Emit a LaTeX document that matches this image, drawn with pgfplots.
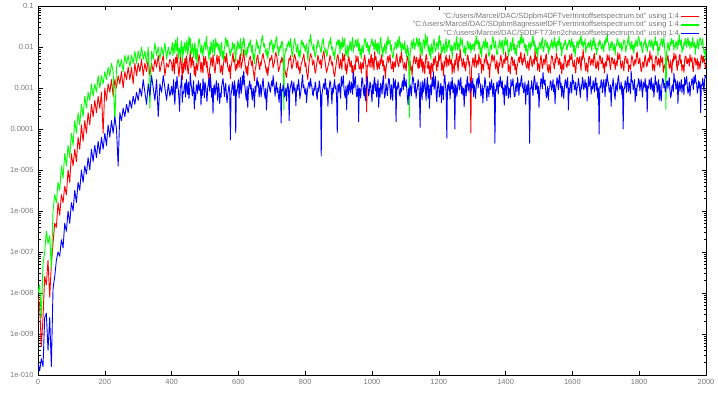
\documentclass[border=0pt]{standalone}
\usepackage{pgfplots}
\usepackage{pgfplotstable}
\usepackage{fontspec}
\setmainfont{Liberation Sans}
\pgfplotsset{compat=1.18}
\definecolor{lbl}{RGB}{120,120,120}
\definecolor{gpred}{RGB}{255,0,0}
\definecolor{gpgreen}{RGB}{0,255,0}
\definecolor{gpblue}{RGB}{0,0,255}
\pgfplotstableread{
x r g b
0 7.9e-9 1.0e-8 2.0e-10
5 5.0e-9 1.6e-8 1.26e-10
10 5.0e-10 2.5e-9 2.5e-10
15 2.5e-9 5.0e-8 1.6e-10
20 2.5e-8 1.0e-7 2.5e-9
25 1.6e-8 3.2e-7 3.2e-9
30 6.3e-8 1.6e-7 4.0e-10
35 7.9e-9 2.5e-7 2.5e-9
40 5.0e-8 4.0e-8 1.6e-10
45 1.6e-7 1.0e-6 1.26e-8
50 5.0e-7 2.5e-6 2.5e-8
55 4.0e-7 1.6e-6 6.3e-8
60 1.6e-6 5.0e-6 1.0e-7
65 7.9e-7 3.2e-6 7.9e-8
70 2.5e-6 1.26e-5 2.0e-7
75 1.6e-6 6.3e-6 1.26e-7
80 4.0e-6 2.5e-5 5.0e-7
85 2.5e-6 1.26e-5 3.2e-7
90 1.0e-5 4.0e-5 1.0e-6
95 5.0e-6 2.0e-5 5.0e-7
100 2.5e-5 7.9e-5 1.6e-6
105 1.26e-5 4.0e-5 1.0e-6
110 3.2e-5 1.6e-4 3.2e-6
115 1.6e-5 7.9e-5 1.6e-6
120 6.3e-5 2.5e-4 5.0e-6
125 3.2e-5 1.26e-4 3.2e-6
130 1.26e-4 4.0e-4 1.0e-5
135 5.0e-5 2.0e-4 5.0e-6
140 1.6e-4 6.3e-4 1.26e-5
145 7.9e-5 3.2e-4 7.9e-6
150 2.5e-4 7.9e-4 2.0e-5
155 1.26e-4 5.0e-4 1.0e-5
160 4.0e-4 1.26e-3 3.2e-5
165 2.0e-4 6.3e-4 1.6e-5
170 5.0e-4 1.26e-3 4.0e-5
175 2.5e-4 7.9e-4 2.0e-5
180 6.3e-4 2.0e-3 5.0e-5
185 3.2e-4 1.0e-3 2.5e-5
190 7.9e-4 2.0e-3 6.3e-5
195 7.9e-5 1.26e-3 3.2e-5
200 1.0e-3 2.5e-3 7.9e-5
205 5.0e-4 1.6e-3 4.0e-5
210 1.26e-3 3.2e-3 1.26e-4
215 7.9e-4 2.0e-3 6.3e-5
220 1.6e-3 4.0e-3 1.6e-4
225 6.3e-4 2.5e-3 7.9e-5
230 1.6e-3 1.26e-4 2.0e-4
235 1.0e-3 3.2e-3 1.0e-4
240 2.0e-3 5.0e-3 1.26e-5
245 1.26e-3 3.2e-3 2.5e-4
250 2.5e-3 5.0e-3 1.6e-4
255 1.0e-3 2.5e-3 3.2e-4
260 2.5e-3 6.3e-3 2.0e-4
265 1.6e-3 4.0e-3 4.0e-4
270 3.2e-3 6.3e-3 2.5e-4
275 1.6e-3 3.2e-3 5.0e-4
280 3.2e-3 6.3e-3 3.2e-4
285 1.26e-3 4.0e-3 6.3e-4
290 4.0e-3 7.9e-3 4.0e-4
295 2.0e-3 4.0e-3 7.9e-4
300 4.0e-3 7.9e-3 5.0e-4
305 2.5e-3 5.0e-3 1.0e-3
310 5.0e-3 1.0e-2 6.3e-4
315 2.0e-3 5.0e-3 1.6e-3
320 4.0e-3 7.9e-3 7.9e-4
325 2.5e-3 4.0e-3 4.0e-4
330 5.0e-3 1.0e-2 1.26e-3
335 2.0e-3 3.2e-4 6.3e-4
340 4.0e-3 7.9e-3 2.0e-3
345 2.5e-3 5.0e-3 1.0e-3
350 5.0e-3 1.26e-2 5.0e-4
355 3.2e-3 6.3e-3 1.6e-3
360 6.3e-3 1.0e-2 2.0e-4
365 2.5e-3 5.0e-3 1.26e-3
370 4.0e-3 1.0e-2 7.9e-4
375 6.3e-3 6.3e-3 2.0e-3
380 2.0e-3 1.26e-2 1.0e-3
385 4.0e-3 5.0e-3 5.0e-4
390 3.2e-3 1.0e-2 1.26e-3
395 5.0e-3 6.3e-3 6.3e-4
400 4.1e-3 9.2e-3 1.1e-3
402 2.6e-3 1.3e-2 6.8e-4
404 3.3e-3 6.1e-3 8.4e-4
406 5.1e-3 8.8e-3 1.6e-3
408 2.2e-3 1.2e-2 6.1e-4
410 3.8e-3 7.0e-3 4.0e-4
412 5.6e-3 1.5e-2 1.4e-3
414 4.0e-3 1.1e-2 9.7e-4
416 6.8e-3 7.9e-3 1.9e-3
418 4.4e-3 1.7e-2 1.2e-3
420 2.9e-3 5.2e-3 9.0e-4
422 1.9e-3 9.4e-3 5.5e-4
424 3.0e-3 8.6e-3 2.7e-4
426 5.9e-3 5.8e-3 1.0e-3
428 4.7e-3 1.1e-2 1.2e-3
430 3.2e-3 1.4e-2 2.0e-3
432 1.6e-3 4.3e-3 4.5e-4
434 4.3e-3 1.0e-2 8.1e-4
436 2.4e-3 6.8e-3 7.3e-4
438 3.5e-3 1.2e-2 1.1e-3
440 5.2e-3 1.3e-2 1.3e-3
442 2.8e-3 7.5e-3 6.0e-4
444 6.1e-3 9.8e-3 1.6e-3
446 4.9e-3 1.5e-2 1.0e-3
448 2.7e-3 6.4e-3 7.0e-4
450 2.2e-3 8.3e-3 1.4e-3
452 3.9e-3 1.8e-2 5.5e-4
454 5.4e-3 1.1e-2 8.8e-4
456 7.9e-3 1.6e-2 2.3e-3
458 3.1e-3 6.6e-3 1.3e-3
460 4.4e-3 7.3e-3 1.0e-3
462 5.7e-3 1.2e-2 6.4e-4
464 3.6e-3 8.5e-3 9.4e-4
466 4.5e-3 5.6e-3 1.5e-3
468 2.1e-3 1.0e-2 3.1e-4
470 3.3e-3 1.3e-2 8.0e-4
472 1.9e-3 5.0e-3 5.2e-4
474 4.0e-3 9.0e-3 1.2e-3
476 3.4e-3 4.1e-3 1.1e-3
478 2.7e-3 7.9e-3 7.4e-4
480 4.6e-3 1.2e-2 1.5e-3
482 6.6e-3 1.6e-2 1.0e-3
484 5.3e-3 1.4e-2 8.7e-4
486 3.7e-3 8.9e-3 1.3e-3
488 2.4e-3 6.9e-3 3.8e-4
490 4.2e-3 1.1e-2 9.2e-4
492 3.1e-3 8.0e-3 6.6e-4
494 2.3e-3 6.0e-3 1.7e-3
496 5.9e-3 1.0e-2 1.1e-3
498 3.6e-3 1.2e-2 5.8e-4
500 4.8e-3 1.3e-2 1.4e-3
502 5.9e-3 8.7e-3 1.1e-3
504 3.2e-3 1.8e-2 7.6e-4
506 4.4e-3 1.1e-2 4.7e-4
508 2.6e-3 9.1e-3 1.0e-3
510 2.0e-3 7.3e-3 1.3e-3
512 1.4e-3 4.8e-3 1.7e-3
514 3.0e-3 1.0e-2 8.4e-4
516 3.7e-3 6.6e-3 2.2e-3
518 5.6e-3 1.4e-2 1.2e-3
520 4.9e-3 9.7e-3 5.9e-4
522 3.4e-3 7.2e-3 9.8e-4
524 6.5e-3 1.2e-2 2.4e-4
526 4.5e-3 1.5e-2 1.0e-3
528 2.9e-3 6.2e-3 1.2e-3
530 2.3e-3 8.5e-3 6.7e-4
532 3.5e-3 1.6e-2 9.6e-4
534 4.8e-3 1.0e-2 1.5e-3
536 6.4e-3 1.3e-2 8.8e-4
538 3.9e-3 1.1e-2 5.0e-4
540 5.0e-3 8.4e-3 1.3e-3
542 6.1e-3 1.2e-2 1.0e-3
544 3.8e-3 7.6e-3 4.2e-4
546 2.4e-3 5.9e-3 7.5e-4
548 2.8e-3 1.1e-2 6.0e-4
550 3.6e-3 1.3e-2 1.1e-3
552 2.1e-3 5.3e-3 1.4e-3
554 3.1e-3 8.0e-3 1.7e-3
556 4.2e-3 4.7e-3 1.1e-3
558 6.0e-3 9.6e-3 6.2e-4
560 5.5e-3 1.1e-2 9.9e-4
562 4.1e-3 1.7e-2 1.3e-3
564 7.1e-3 1.4e-2 7.1e-4
566 5.0e-3 1.0e-2 4.4e-4
568 3.3e-3 1.5e-2 6.6e-4
570 2.9e-3 1.1e-2 9.2e-4
572 2.5e-3 9.4e-3 1.2e-3
574 3.7e-3 7.1e-3 8.0e-4
576 1.7e-3 6.0e-3 5.4e-5
578 3.3e-3 8.9e-3 7.0e-4
580 4.0e-3 7.7e-3 8.9e-4
582 5.6e-3 1.3e-2 1.4e-3
584 7.2e-3 9.0e-3 1.0e-3
586 4.3e-3 1.1e-2 6.5e-4
588 5.1e-3 1.2e-2 1.5e-3
590 3.5e-3 6.9e-3 1.1e-3
592 2.6e-3 4.4e-3 8.0e-5
594 3.8e-3 1.0e-2 9.0e-4
596 3.0e-3 8.3e-3 7.9e-4
598 4.9e-3 1.4e-2 1.2e-3
600 4.4e-3 1.2e-2 1.6e-3
602 3.2e-3 9.1e-3 5.7e-4
604 5.8e-3 1.0e-2 1.1e-3
606 6.8e-3 1.6e-2 1.8e-3
608 3.0e-3 8.0e-3 7.3e-4
610 3.6e-3 6.2e-3 9.5e-4
612 4.6e-3 1.3e-2 2.0e-3
614 5.9e-3 1.1e-2 1.2e-3
616 8.6e-3 1.7e-2 2.6e-3
618 5.2e-3 1.3e-2 1.4e-3
620 3.9e-3 6.5e-3 1.0e-3
622 2.9e-3 8.1e-3 6.4e-4
624 2.3e-3 5.7e-3 5.0e-4
626 3.4e-3 9.8e-3 1.1e-3
628 2.0e-3 7.2e-3 3.3e-4
630 3.9e-3 1.2e-2 8.6e-4
632 4.8e-3 1.0e-2 1.2e-3
634 5.5e-3 1.3e-2 1.5e-3
636 6.0e-3 1.5e-2 9.4e-4
638 4.2e-3 9.6e-3 1.2e-3
640 3.5e-3 7.4e-3 6.8e-4
642 4.6e-3 1.1e-2 5.1e-4
644 2.7e-3 5.0e-3 1.0e-3
646 2.2e-3 6.8e-3 8.0e-4
648 1.5e-3 3.9e-3 3.4e-4
650 2.8e-3 7.9e-3 1.1e-3
652 3.2e-3 9.0e-3 8.0e-4
654 4.6e-3 1.5e-2 1.3e-3
656 5.7e-3 1.3e-2 1.8e-3
658 6.4e-3 9.4e-3 1.1e-3
660 4.5e-3 1.1e-2 1.4e-3
662 3.4e-3 8.2e-3 6.0e-4
664 2.8e-3 6.6e-3 9.1e-4
666 4.2e-3 1.0e-2 1.2e-3
668 3.6e-3 1.2e-2 6.2e-4
670 4.9e-3 1.6e-2 9.0e-4
672 6.1e-3 1.9e-2 1.3e-3
674 7.0e-3 1.3e-2 1.7e-3
676 5.2e-3 1.0e-2 1.0e-3
678 4.5e-3 1.2e-2 7.3e-4
680 3.9e-3 8.8e-3 5.6e-4
682 3.0e-3 7.3e-3 1.0e-3
684 2.4e-3 6.3e-3 2.9e-4
686 3.2e-3 9.3e-3 6.6e-4
688 2.0e-3 5.1e-3 1.0e-3
690 2.9e-3 7.5e-3 1.4e-3
692 3.8e-3 8.1e-3 1.2e-3
694 5.3e-3 1.3e-2 9.0e-4
696 4.7e-3 1.1e-2 7.9e-4
698 5.6e-3 1.5e-2 1.2e-3
700 6.3e-3 1.4e-2 1.5e-3
702 4.4e-3 1.0e-2 1.1e-3
704 3.1e-3 7.0e-3 2.0e-3
706 3.7e-3 1.2e-2 1.3e-3
708 4.3e-3 9.2e-3 9.6e-4
710 5.9e-3 1.1e-2 6.3e-4
712 7.5e-3 1.5e-2 1.1e-3
714 6.2e-3 1.8e-2 1.4e-3
716 5.4e-3 1.2e-2 7.8e-4
718 3.8e-3 8.5e-3 1.0e-3
720 2.5e-3 6.1e-3 6.2e-4
722 2.9e-3 1.0e-2 4.5e-4
724 3.3e-3 8.0e-3 1.0e-3
726 4.6e-3 1.1e-2 1.3e-3
728 4.2e-3 9.5e-3 1.4e-4
730 5.7e-3 1.4e-2 9.1e-4
732 5.0e-3 1.3e-2 8.5e-4
734 4.0e-3 8.6e-3 1.2e-3
736 3.4e-3 2.9e-4 9.6e-4
738 3.0e-3 6.3e-3 6.1e-4
740 2.6e-3 7.1e-3 6.9e-4
742 2.1e-3 9.2e-3 1.0e-3
744 1.8e-3 8.2e-3 4.8e-4
746 2.7e-3 1.2e-2 9.0e-4
748 3.0e-3 1.0e-2 1.3e-3
750 4.4e-3 1.4e-2 1.0e-3
752 5.3e-3 1.2e-2 1.6e-4
754 4.8e-3 9.9e-3 8.7e-4
756 6.2e-3 1.6e-2 1.1e-3
758 4.0e-3 1.1e-2 1.3e-3
760 2.9e-3 6.7e-3 1.5e-3
762 3.4e-3 5.7e-3 7.4e-4
764 4.1e-3 8.9e-3 9.2e-4
766 5.3e-3 1.2e-2 1.4e-3
768 6.6e-3 1.6e-2 8.5e-4
770 5.8e-3 1.3e-2 1.0e-3
772 4.9e-3 1.1e-2 3.7e-4
774 3.1e-3 7.4e-3 7.9e-4
776 3.7e-3 9.0e-3 1.2e-3
778 4.6e-3 1.2e-2 9.0e-4
780 2.8e-3 6.0e-3 1.6e-3
782 3.3e-3 8.3e-3 1.1e-3
784 2.2e-3 5.4e-3 5.5e-4
786 2.9e-3 7.0e-3 7.2e-4
788 3.9e-3 1.3e-2 9.8e-4
790 4.2e-3 1.5e-2 1.4e-3
792 5.0e-3 1.1e-2 2.1e-3
794 5.7e-3 1.3e-2 1.0e-3
796 6.8e-3 9.6e-3 1.2e-3
798 4.5e-3 1.1e-2 8.2e-4
800 3.3e-3 7.8e-3 7.1e-4
802 4.1e-3 9.0e-3 1.0e-3
804 2.5e-3 1.2e-2 4.4e-4
806 2.1e-3 7.2e-3 7.7e-4
808 1.6e-3 4.6e-3 1.0e-3
810 3.0e-3 8.8e-3 1.3e-3
812 4.4e-3 1.5e-2 1.4e-3
814 5.6e-3 1.3e-2 9.8e-4
816 6.9e-3 2.0e-2 1.7e-3
818 6.0e-3 1.4e-2 1.2e-3
820 5.5e-3 1.1e-2 1.1e-3
822 3.6e-3 9.4e-3 7.2e-4
824 4.0e-3 8.4e-3 6.4e-4
826 4.8e-3 1.2e-2 1.0e-3
828 3.1e-3 6.9e-3 8.8e-4
830 2.3e-3 5.6e-3 1.4e-3
832 2.6e-3 6.3e-3 1.1e-3
834 3.8e-3 1.1e-2 6.8e-4
836 4.5e-3 9.9e-3 5.2e-4
838 6.3e-3 1.5e-2 1.0e-3
840 5.4e-3 1.3e-2 8.3e-4
842 4.2e-3 1.1e-2 1.5e-3
844 3.8e-3 1.0e-2 1.2e-3
846 4.9e-3 8.2e-3 7.0e-4
848 3.0e-3 7.2e-3 2.2e-5
850 4.1e-3 1.2e-2 6.5e-4
852 5.9e-3 1.4e-2 9.0e-4
854 6.9e-3 1.6e-2 1.1e-3
856 8.1e-3 1.0e-2 1.3e-3
858 5.4e-3 9.2e-3 9.3e-4
860 4.2e-3 7.5e-3 1.7e-3
862 3.0e-3 8.9e-3 1.2e-3
864 2.4e-3 5.9e-3 6.9e-4
866 2.8e-3 6.6e-3 1.0e-3
868 3.3e-3 8.7e-3 3.6e-4
870 3.9e-3 1.1e-2 8.1e-4
872 4.5e-3 1.4e-2 1.0e-3
874 6.2e-3 1.2e-2 1.5e-3
876 5.6e-3 1.7e-2 1.3e-3
878 4.4e-3 1.1e-2 8.8e-4
880 3.6e-3 8.6e-3 4.1e-4
882 4.3e-3 1.0e-2 1.0e-3
884 2.7e-3 6.2e-3 7.6e-4
886 2.2e-3 7.7e-3 1.2e-3
888 1.9e-3 4.9e-3 1.6e-3
890 2.6e-3 8.0e-3 9.7e-4
892 3.5e-3 9.4e-3 1.1e-3
894 4.8e-3 1.3e-2 6.1e-4
896 5.8e-3 1.2e-2 8.0e-5
898 6.6e-3 1.5e-2 1.2e-3
900 4.9e-3 1.1e-2 8.1e-4
902 3.0e-3 1.5e-2 1.3e-3
904 3.2e-3 6.8e-3 9.2e-4
906 5.0e-3 1.2e-2 5.6e-4
908 4.0e-3 1.3e-2 1.9e-3
910 2.8e-3 8.7e-3 1.1e-3
912 7.0e-3 1.7e-2 1.4e-3
914 4.6e-3 1.0e-2 2.0e-3
916 5.3e-3 1.2e-2 1.0e-3
918 6.6e-3 1.6e-2 6.9e-4
920 2.7e-3 9.3e-3 5.8e-4
922 3.9e-3 6.0e-3 1.1e-3
924 2.2e-3 7.0e-3 3.0e-4
926 3.0e-3 1.1e-2 9.6e-4
928 4.3e-3 5.5e-3 1.2e-3
930 6.0e-3 1.0e-2 7.0e-4
932 5.0e-3 8.8e-3 1.5e-3
934 3.3e-3 1.4e-2 1.0e-3
936 3.5e-3 1.1e-2 7.7e-4
938 4.6e-3 8.0e-3 1.4e-3
940 2.4e-3 1.4e-2 1.1e-3
942 3.5e-3 1.7e-2 7.0e-4
944 1.5e-3 7.5e-3 2.4e-3
946 2.9e-3 1.1e-2 1.0e-3
948 3.7e-3 1.0e-2 1.3e-3
950 2.8e-3 1.4e-2 1.9e-3
952 6.2e-3 1.5e-2 1.0e-3
954 4.4e-3 1.0e-2 6.2e-4
956 4.8e-3 1.2e-2 6.8e-4
958 5.9e-3 1.6e-2 1.2e-3
960 3.9e-3 8.1e-3 1.5e-4
962 2.9e-3 1.2e-2 1.0e-3
964 3.0e-3 6.4e-3 9.0e-4
966 4.2e-3 8.9e-3 5.7e-4
968 2.3e-3 5.2e-3 1.1e-3
970 3.6e-3 1.1e-2 1.8e-3
972 4.1e-3 9.0e-3 1.6e-3
974 3.0e-3 7.3e-3 8.5e-4
976 5.1e-3 1.2e-2 6.5e-4
978 6.4e-3 1.5e-2 1.2e-3
980 4.6e-3 1.6e-2 4.9e-4
982 3.3e-3 1.0e-2 9.5e-4
984 2.6e-4 9.8e-3 1.3e-3
986 3.6e-3 1.3e-2 1.9e-3
988 3.4e-3 7.9e-3 1.0e-3
990 5.1e-3 1.1e-2 6.4e-4
992 4.6e-3 6.5e-3 8.7e-4
994 3.2e-3 1.0e-2 1.4e-3
996 5.5e-3 1.1e-2 1.2e-3
998 6.6e-3 1.4e-2 7.5e-4
1000 3.1e-3 1.6e-2 4.6e-4
1002 5.3e-3 1.1e-2 1.2e-3
1004 4.0e-3 1.3e-2 7.3e-4
1006 2.7e-3 8.4e-3 1.5e-3
1008 7.7e-3 1.0e-2 1.8e-3
1010 4.9e-3 1.5e-2 8.6e-4
1012 5.8e-3 8.4e-3 1.3e-3
1014 3.6e-3 1.2e-2 6.0e-4
1016 2.8e-3 7.3e-3 9.5e-4
1018 4.5e-3 1.3e-2 1.6e-3
1020 3.6e-3 9.9e-3 3.4e-4
1022 2.9e-3 6.5e-3 1.0e-3
1024 4.9e-3 1.3e-2 6.0e-4
1026 3.8e-3 1.7e-2 1.3e-3
1028 6.4e-3 1.1e-2 1.1e-3
1030 5.0e-3 7.9e-3 7.1e-4
1032 3.4e-3 5.8e-3 1.4e-3
1034 4.6e-3 9.7e-3 2.0e-3
1036 2.6e-3 7.8e-3 9.1e-4
1038 3.5e-3 1.2e-2 5.7e-4
1040 1.7e-3 9.6e-3 7.4e-4
1042 2.9e-3 6.9e-3 1.3e-3
1044 3.9e-3 1.4e-2 1.0e-3
1046 5.5e-3 1.1e-2 6.5e-4
1048 6.0e-3 1.8e-2 1.1e-3
1050 4.2e-3 1.2e-2 1.7e-3
1052 5.1e-3 1.2e-2 1.6e-3
1054 6.5e-3 1.5e-2 9.2e-4
1056 4.1e-3 8.3e-3 5.3e-4
1058 2.9e-3 1.1e-2 1.2e-3
1060 3.1e-3 6.7e-3 8.0e-4
1062 4.4e-3 5.4e-3 5.0e-4
1064 2.5e-3 6.0e-3 1.7e-3
1066 3.9e-3 1.0e-2 1.0e-3
1068 4.3e-3 8.9e-3 1.2e-3
1070 3.2e-3 1.3e-2 1.6e-3
1072 5.6e-3 1.1e-2 1.5e-4
1074 6.8e-3 9.0e-3 1.1e-3
1076 4.7e-3 1.5e-2 9.5e-4
1078 3.6e-3 1.0e-2 1.4e-3
1080 3.3e-3 1.4e-2 1.2e-3
1082 4.6e-3 1.8e-2 7.3e-4
1084 5.9e-3 1.0e-2 6.3e-4
1086 4.1e-3 1.3e-2 1.0e-3
1088 8.4e-3 7.7e-3 8.1e-4
1090 5.3e-3 1.1e-2 1.3e-3
1092 4.5e-3 1.2e-2 1.5e-3
1094 3.3e-3 8.5e-3 9.0e-4
1096 2.9e-3 1.0e-2 2.2e-3
1098 4.2e-3 1.4e-2 1.2e-3
1100 3.5e-3 7.1e-3 1.1e-3
1102 2.6e-3 9.0e-3 1.6e-3
1104 4.4e-3 5.6e-3 9.8e-4
1106 5.9e-3 1.1e-2 6.2e-4
1108 5.2e-3 9.3e-3 3.9e-4
1110 3.5e-3 6.0e-3 1.0e-3
1112 3.7e-3 1.9e-4 6.3e-4
1114 4.6e-3 7.0e-3 1.2e-3
1116 2.7e-3 8.6e-3 1.0e-3
1118 3.3e-3 1.4e-2 6.4e-4
1120 2.0e-3 1.2e-2 1.3e-3
1122 3.6e-3 9.1e-3 1.9e-3
1124 4.2e-3 1.6e-2 1.7e-3
1126 6.1e-3 1.3e-2 1.1e-3
1128 5.5e-3 8.7e-3 7.8e-4
1130 3.9e-3 1.2e-2 1.3e-3
1132 4.6e-3 1.1e-2 5.6e-4
1134 5.7e-3 1.7e-2 8.6e-4
1136 3.8e-3 1.5e-2 1.0e-3
1138 3.0e-3 1.0e-2 1.6e-3
1140 5.0e-3 1.2e-2 1.3e-3
1142 3.1e-3 1.6e-2 7.0e-4
1144 6.7e-3 6.9e-3 1.1e-4
1146 4.9e-3 1.3e-2 1.4e-3
1148 3.3e-3 8.2e-3 9.0e-4
1150 5.1e-3 6.0e-3 5.2e-4
1152 2.4e-3 1.1e-2 1.5e-3
1154 4.3e-3 1.5e-2 8.0e-4
1156 3.4e-3 1.3e-2 1.1e-3
1158 2.2e-3 9.0e-3 1.7e-3
1160 4.7e-3 2.1e-2 8.9e-4
1162 6.6e-3 1.1e-2 5.0e-4
1164 5.8e-3 1.4e-2 1.2e-3
1166 3.2e-3 1.8e-2 1.8e-3
1168 3.0e-3 7.9e-3 5.7e-4
1170 4.4e-3 1.1e-2 1.2e-3
1172 2.2e-3 6.3e-3 3.2e-4
1174 3.5e-3 9.6e-3 9.0e-4
1176 1.6e-3 5.0e-3 1.2e-3
1178 4.0e-3 1.2e-2 6.8e-4
1180 3.6e-3 9.1e-3 1.8e-3
1182 2.5e-3 7.0e-3 1.1e-3
1184 5.2e-3 1.3e-2 2.5e-3
1186 3.7e-3 1.6e-2 9.2e-4
1188 4.9e-3 1.0e-2 1.3e-3
1190 6.0e-3 7.8e-3 1.9e-3
1192 3.6e-3 9.1e-3 7.2e-4
1194 2.6e-3 1.3e-2 4.6e-4
1196 4.4e-3 1.2e-2 9.4e-4
1198 3.3e-3 8.4e-3 1.5e-3
1200 7.3e-3 1.6e-2 1.1e-3
1202 4.7e-3 1.9e-2 6.1e-4
1204 5.6e-3 1.1e-2 8.0e-4
1206 6.9e-3 1.4e-2 1.3e-3
1208 2.7e-3 6.4e-3 4.4e-4
1210 4.1e-3 1.0e-2 1.1e-3
1212 3.2e-3 7.7e-3 1.0e-3
1214 2.0e-3 1.2e-2 5.2e-4
1216 4.5e-3 1.0e-2 1.6e-3
1218 3.4e-3 6.9e-3 2.1e-3
1220 5.3e-3 1.3e-2 1.2e-3
1222 6.4e-3 1.6e-2 7.4e-4
1224 3.2e-3 7.6e-3 6.0e-5
1226 5.1e-3 1.1e-2 1.2e-3
1228 4.8e-3 9.8e-3 8.7e-4
1230 3.5e-3 1.5e-2 1.4e-3
1232 6.3e-3 1.4e-2 1.0e-3
1234 4.4e-3 9.0e-3 5.5e-4
1236 3.8e-3 8.1e-3 1.4e-3
1238 5.0e-3 1.1e-2 9.5e-4
1240 2.2e-3 5.3e-3 1.8e-3
1242 3.9e-3 1.0e-2 8.0e-4
1244 3.3e-3 8.7e-3 7.6e-4
1246 2.4e-3 1.3e-2 1.3e-3
1248 4.8e-3 1.2e-2 1.0e-4
1250 3.6e-3 8.4e-3 1.2e-3
1252 5.7e-3 1.5e-2 1.1e-3
1254 7.0e-3 1.8e-2 6.3e-4
1256 3.5e-3 8.5e-3 9.0e-4
1258 2.6e-3 1.2e-2 1.5e-3
1260 6.0e-3 1.1e-2 1.6e-3
1262 4.6e-3 7.9e-3 9.0e-4
1264 8.9e-3 1.7e-2 1.3e-3
1266 5.5e-3 1.1e-2 1.8e-3
1268 5.1e-3 1.3e-2 7.3e-4
1270 3.3e-3 1.6e-2 1.1e-3
1272 4.0e-3 1.0e-2 6.7e-4
1274 5.2e-3 7.6e-3 1.0e-3
1276 3.1e-3 7.3e-3 3.5e-4
1278 4.3e-3 1.1e-2 8.5e-4
1280 2.6e-3 6.1e-3 1.2e-3
1282 3.7e-3 9.4e-3 6.4e-4
1284 4.3e-3 9.2e-3 1.5e-3
1286 6.4e-3 1.4e-2 1.9e-3
1288 5.9e-3 1.3e-2 8.4e-4
1290 3.6e-3 8.7e-3 1.3e-3
1292 4.4e-3 1.0e-2 1.2e-3
1294 1.4e-3 1.3e-2 7.5e-4
1296 8.0e-5 7.2e-3 1.5e-3
1298 3.0e-3 1.1e-2 1.0e-3
1300 3.8e-3 8.8e-3 1.0e-3
1302 5.5e-3 1.2e-2 1.7e-3
1304 4.6e-3 1.1e-2 6.2e-4
1306 3.2e-3 8.0e-3 1.2e-3
1308 5.4e-3 1.4e-2 8.9e-4
1310 6.6e-3 1.1e-2 5.6e-4
1312 3.1e-3 1.9e-2 1.1e-3
1314 4.2e-3 1.2e-2 1.6e-3
1316 4.7e-3 1.2e-2 1.7e-3
1318 3.6e-3 1.5e-2 1.0e-3
1320 6.8e-3 8.9e-3 2.3e-3
1322 4.9e-3 1.3e-2 1.3e-3
1324 4.0e-3 7.0e-3 1.3e-3
1326 5.3e-3 9.6e-3 6.4e-4
1328 2.3e-3 5.7e-3 7.5e-4
1330 3.8e-3 1.1e-2 1.2e-3
1332 3.6e-3 9.5e-3 4.3e-4
1334 2.7e-3 1.4e-2 9.5e-4
1336 5.0e-3 1.2e-2 1.0e-3
1338 4.1e-3 8.8e-3 1.8e-3
1340 5.9e-3 1.6e-2 1.4e-3
1342 6.9e-3 1.2e-2 8.6e-4
1344 3.8e-3 9.4e-3 4.9e-4
1346 4.6e-3 1.3e-2 1.1e-3
1348 2.9e-3 7.6e-3 9.2e-4
1350 3.9e-3 5.9e-3 6.1e-4
1352 1.8e-3 6.6e-3 1.4e-3
1354 3.4e-3 1.1e-2 9.0e-4
1356 4.1e-3 1.1e-2 1.1e-3
1358 5.8e-3 8.6e-3 1.6e-3
1360 6.5e-3 1.5e-2 9.3e-4
1362 4.4e-3 1.8e-2 6.2e-4
1364 5.3e-3 1.3e-2 1.3e-3
1366 6.2e-3 9.3e-3 1.0e-3
1368 4.2e-3 1.0e-2 4.5e-5
1370 2.9e-3 1.4e-2 9.1e-4
1372 3.5e-3 8.3e-3 8.4e-4
1374 4.7e-3 6.5e-3 1.4e-3
1376 2.8e-3 7.0e-3 1.2e-3
1378 2.2e-3 1.1e-2 7.1e-4
1380 4.0e-3 1.0e-2 1.5e-3
1382 3.4e-3 1.5e-2 1.1e-3
1384 5.3e-3 1.3e-2 1.9e-3
1386 6.4e-3 9.0e-3 1.3e-3
1388 4.6e-3 1.2e-2 1.0e-3
1390 3.1e-3 1.5e-2 1.5e-3
1392 3.4e-3 8.0e-3 7.0e-4
1394 4.8e-3 6.7e-3 1.0e-3
1396 5.1e-3 1.4e-2 3.8e-4
1398 3.9e-3 1.1e-2 1.2e-3
1400 7.6e-3 1.7e-2 1.1e-3
1402 5.0e-3 1.2e-2 6.5e-4
1404 4.8e-3 1.1e-2 1.4e-3
1406 6.0e-3 1.5e-2 1.9e-3
1408 2.5e-3 5.9e-3 5.6e-4
1410 3.7e-3 9.0e-3 1.0e-3
1412 3.0e-3 7.8e-3 9.0e-4
1414 2.2e-3 1.3e-2 5.8e-4
1416 4.3e-3 1.1e-2 1.6e-3
1418 5.8e-3 8.1e-3 1.1e-3
1420 5.5e-3 1.5e-2 1.2e-3
1422 3.5e-3 1.7e-2 1.7e-3
1424 3.9e-3 8.6e-3 9.7e-4
1426 4.9e-3 1.2e-2 6.3e-4
1428 2.8e-3 6.9e-3 6.1e-4
1430 3.8e-3 9.5e-3 1.1e-3
1432 2.1e-3 6.2e-3 1.3e-3
1434 3.2e-3 1.1e-2 8.0e-4
1436 3.7e-3 1.0e-2 1.8e-3
1438 5.0e-3 1.4e-2 1.2e-3
1440 5.7e-3 1.4e-2 6.6e-4
1442 4.2e-3 9.5e-3 1.3e-3
1444 6.2e-3 1.7e-2 1.1e-3
1446 7.5e-3 1.2e-2 1.6e-3
1448 4.4e-3 2.0e-2 2.0e-3
1450 3.6e-3 1.3e-2 1.0e-3
1452 5.3e-3 1.3e-2 1.3e-3
1454 4.3e-3 1.6e-2 7.6e-4
1456 6.9e-3 9.7e-3 8.7e-4
1458 5.5e-3 1.2e-2 1.4e-3
1460 4.1e-3 8.0e-3 4.0e-4
1462 3.3e-3 1.1e-2 8.8e-4
1464 3.0e-3 7.4e-3 1.2e-3
1466 4.5e-3 6.2e-3 6.9e-4
1468 3.8e-3 9.6e-3 1.5e-3
1470 2.7e-3 1.3e-2 1.1e-3
1472 4.7e-3 1.1e-2 4.5e-5
1474 6.1e-3 8.6e-3 1.0e-3
1476 5.4e-3 1.3e-2 9.6e-4
1478 3.9e-3 1.0e-2 1.5e-3
1480 3.3e-3 1.6e-2 1.0e-3
1482 4.6e-3 1.9e-2 6.5e-4
1484 5.0e-3 1.1e-2 1.3e-3
1486 3.8e-3 1.4e-2 2.0e-3
1488 8.3e-3 8.2e-3 1.5e-3
1490 5.2e-3 1.1e-2 9.1e-4
1492 4.5e-3 6.9e-3 1.0e-3
1494 5.9e-3 9.4e-3 1.4e-3
1496 2.7e-3 5.5e-3 7.3e-4
1498 3.9e-3 1.0e-2 1.1e-3
1500 3.5e-3 9.1e-3 3.3e-4
1502 2.5e-3 1.3e-2 8.0e-4
1504 5.1e-3 1.2e-2 1.1e-3
1506 6.3e-3 8.9e-3 1.7e-3
1508 4.3e-3 1.4e-2 1.6e-3
1510 3.0e-3 1.7e-2 9.6e-4
1512 3.6e-3 9.0e-3 2.4e-3
1514 5.0e-3 7.7e-3 1.4e-3
1516 4.9e-3 1.1e-2 1.2e-3
1518 3.7e-3 1.4e-2 1.6e-3
1520 6.0e-3 1.5e-2 9.0e-4
1522 6.8e-3 1.1e-2 5.8e-4
1524 3.9e-3 9.8e-3 7.1e-4
1526 2.8e-3 1.3e-2 1.1e-3
1528 2.4e-3 6.7e-3 5.1e-4
1530 3.8e-3 9.9e-3 9.5e-4
1532 3.1e-3 8.3e-3 1.0e-3
1534 2.3e-3 1.2e-2 1.5e-3
1536 4.9e-3 1.0e-2 1.4e-3
1538 6.1e-3 1.5e-2 8.8e-4
1540 5.8e-3 1.2e-2 1.1e-3
1542 4.3e-3 9.1e-3 1.6e-3
1544 3.7e-3 1.3e-2 8.0e-4
1546 2.9e-3 1.7e-2 1.2e-3
1548 5.2e-3 1.0e-2 4.1e-4
1550 4.1e-3 1.3e-2 9.4e-4
1552 7.1e-3 7.7e-3 1.2e-3
1554 5.4e-3 1.1e-2 1.8e-3
1556 5.5e-3 1.4e-2 1.4e-3
1558 3.7e-3 1.1e-2 9.0e-4
1560 4.1e-3 1.8e-2 1.7e-3
1562 5.3e-3 1.2e-2 2.1e-3
1564 3.0e-3 9.2e-3 1.0e-3
1566 4.2e-3 1.3e-2 1.3e-3
1568 2.2e-3 6.0e-3 6.1e-4
1570 3.4e-3 9.7e-3 1.1e-3
1572 3.9e-3 8.8e-3 8.8e-4
1574 2.8e-3 1.2e-2 5.6e-4
1576 5.6e-3 1.1e-2 1.0e-3
1578 6.5e-3 1.5e-2 1.5e-3
1580 4.4e-3 1.3e-2 1.6e-3
1582 3.3e-3 9.0e-3 1.0e-3
1584 3.2e-3 8.4e-3 1.3e-3
1586 4.6e-3 1.2e-2 1.8e-3
1588 4.8e-3 1.1e-2 2.9e-4
1590 3.5e-3 1.5e-2 1.0e-3
1592 6.4e-3 1.4e-2 7.6e-4
1594 4.9e-3 9.8e-3 1.4e-3
1596 5.0e-3 1.2e-2 1.2e-3
1598 6.9e-3 1.6e-2 7.5e-4
1600 4.5e-3 1.0e-2 2.1e-3
1602 3.3e-3 1.3e-2 1.3e-3
1604 3.4e-3 7.6e-3 1.5e-3
1606 4.8e-3 1.1e-2 9.2e-4
1608 2.9e-3 5.8e-3 9.4e-4
1610 2.3e-3 8.8e-3 1.4e-3
1612 4.0e-3 9.9e-3 6.7e-4
1614 5.6e-3 1.4e-2 1.0e-3
1616 5.4e-3 1.2e-2 1.1e-3
1618 3.9e-3 9.4e-3 1.7e-3
1620 4.6e-3 1.5e-2 1.3e-3
1622 5.8e-3 1.2e-2 8.2e-4
1624 3.5e-3 1.6e-2 5.9e-4
1626 2.7e-3 1.9e-2 1.2e-3
1628 5.9e-3 1.1e-2 9.6e-4
1630 4.8e-3 1.4e-2 1.8e-3
1632 8.7e-3 9.3e-3 1.5e-3
1634 5.7e-3 1.3e-2 9.0e-4
1636 5.1e-3 1.2e-2 1.1e-3
1638 3.4e-3 1.6e-2 1.6e-3
1640 2.6e-3 7.1e-3 1.0e-3
1642 4.1e-3 1.0e-2 1.3e-3
1644 3.3e-3 9.4e-3 4.8e-4
1646 2.4e-3 1.2e-2 9.0e-4
1648 4.8e-3 1.3e-2 1.9e-3
1650 6.0e-3 9.7e-3 1.1e-3
1652 5.6e-3 1.1e-2 1.3e-3
1654 3.6e-3 1.5e-2 1.9e-3
1656 3.9e-3 1.0e-2 7.1e-4
1658 5.1e-3 8.1e-3 1.1e-3
1660 4.7e-3 1.4e-2 9.4e-4
1662 3.5e-3 1.1e-2 1.5e-3
1664 6.2e-3 1.7e-2 1.2e-3
1666 7.0e-3 1.3e-2 8.0e-4
1668 4.4e-3 9.0e-3 1.5e-3
1670 3.0e-3 1.2e-2 1.8e-3
1672 3.1e-3 6.5e-3 8.8e-4
1674 4.6e-3 9.2e-3 1.3e-3
1676 3.8e-3 8.6e-3 5.5e-4
1678 2.7e-3 1.3e-2 1.0e-3
1680 5.0e-3 1.1e-2 7.5e-5
1682 6.3e-3 1.5e-2 1.1e-3
1684 5.7e-3 1.3e-2 1.0e-3
1686 3.9e-3 9.5e-3 1.6e-3
1688 4.2e-3 8.8e-3 1.4e-3
1690 5.4e-3 1.2e-2 7.7e-4
1692 3.1e-3 1.0e-2 1.2e-3
1694 4.0e-3 7.6e-3 1.6e-3
1696 2.3e-3 1.4e-2 9.9e-4
1698 3.7e-3 1.1e-2 6.2e-4
1700 4.4e-3 1.6e-2 1.6e-3
1702 3.4e-3 1.3e-2 1.1e-3
1704 6.6e-3 2.1e-2 2.2e-3
1706 4.7e-3 1.4e-2 1.5e-3
1708 5.0e-3 1.2e-2 1.3e-3
1710 6.3e-3 9.1e-3 8.4e-4
1712 3.7e-3 8.0e-3 7.9e-4
1714 2.8e-3 1.2e-2 1.2e-3
1716 4.2e-3 9.7e-3 3.6e-4
1718 5.6e-3 1.4e-2 9.8e-4
1720 5.3e-3 1.2e-2 1.2e-3
1722 3.8e-3 8.2e-3 1.7e-3
1724 4.1e-3 8.9e-3 1.0e-3
1726 5.1e-3 1.2e-2 6.8e-4
1728 2.8e-3 6.3e-3 5.3e-4
1730 3.9e-3 1.0e-2 1.3e-3
1732 4.5e-3 1.1e-2 1.1e-3
1734 3.5e-3 1.6e-2 8.2e-4
1736 7.4e-3 1.5e-2 1.6e-3
1738 5.0e-3 1.1e-2 2.0e-3
1740 5.6e-3 1.3e-2 1.3e-3
1742 6.8e-3 9.5e-3 9.2e-4
1744 4.0e-3 9.5e-3 1.0e-3
1746 3.0e-3 1.3e-2 1.4e-3
1748 3.6e-3 7.8e-3 6.9e-4
1750 4.6e-3 1.0e-2 1.1e-3
1752 3.3e-3 1.1e-2 1.0e-4
1754 2.6e-3 1.5e-2 1.0e-3
1756 4.7e-3 1.4e-2 9.7e-4
1758 6.0e-3 1.1e-2 1.5e-3
1760 5.8e-3 7.4e-3 1.3e-3
1762 4.2e-3 1.0e-2 7.8e-4
1764 4.0e-3 1.2e-2 1.6e-3
1766 5.2e-3 1.5e-2 1.9e-3
1768 2.5e-3 1.9e-2 8.2e-4
1770 3.5e-3 1.1e-2 1.3e-3
1772 3.6e-3 1.3e-2 1.2e-3
1774 2.8e-3 8.9e-3 7.2e-4
1776 4.6e-3 1.0e-2 2.6e-3
1778 6.2e-3 1.4e-2 1.4e-3
1780 5.5e-3 8.5e-3 1.5e-3
1782 3.9e-3 1.1e-2 9.0e-4
1784 3.4e-3 6.8e-3 1.1e-3
1786 4.5e-3 1.2e-2 1.6e-3
1788 4.9e-3 1.0e-2 4.6e-4
1790 3.8e-3 1.5e-2 1.0e-3
1792 6.7e-3 1.3e-2 6.4e-4
1794 7.6e-3 1.0e-2 1.2e-3
1796 5.2e-3 1.5e-2 1.1e-3
1798 3.9e-3 1.8e-2 1.7e-3
1800 4.3e-3 1.6e-2 1.5e-3
1802 5.5e-3 1.1e-2 8.6e-4
1804 3.4e-3 1.1e-2 1.2e-3
1806 2.5e-3 1.4e-2 1.6e-3
1808 2.9e-3 8.5e-3 9.1e-4
1810 4.3e-3 7.2e-3 6.0e-4
1812 4.1e-3 1.0e-2 1.4e-3
1814 3.1e-3 1.3e-2 1.0e-3
1816 5.2e-3 1.2e-2 1.2e-3
1818 6.3e-3 1.6e-2 1.7e-3
1820 4.5e-3 9.4e-3 8.3e-4
1822 3.3e-3 1.2e-2 1.2e-3
1824 3.6e-3 7.7e-3 2.6e-4
1826 5.0e-3 1.0e-2 1.1e-3
1828 5.4e-3 1.1e-2 1.0e-3
1830 4.2e-3 1.5e-2 1.6e-3
1832 8.0e-3 1.4e-2 1.4e-3
1834 5.1e-3 1.0e-2 9.3e-4
1836 5.0e-3 1.2e-2 1.8e-3
1838 6.2e-3 1.5e-2 1.1e-3
1840 2.7e-3 9.8e-3 8.6e-4
1842 3.8e-3 8.1e-3 1.3e-3
1844 3.5e-3 1.3e-2 6.0e-4
1846 2.6e-3 1.1e-2 1.0e-3
1848 4.9e-3 1.8e-2 2.0e-3
1850 6.1e-3 1.2e-2 1.2e-3
1852 5.6e-3 1.1e-2 1.4e-3
1854 3.6e-3 1.4e-2 7.8e-4
1856 3.8e-3 6.1e-3 1.1e-3
1858 5.3e-3 9.9e-3 1.6e-3
1860 4.4e-3 8.4e-3 5.0e-4
1862 3.2e-3 1.2e-2 1.2e-3
1864 6.1e-3 1.1e-2 7.0e-4
1866 4.6e-3 1.6e-2 4.8e-4
1868 4.2e-3 1.5e-2 1.2e-3
1870 5.5e-3 1.0e-2 1.7e-3
1872 2.4e-3 1.3e-2 1.6e-3
1874 3.3e-3 1.7e-2 1.0e-3
1876 3.7e-3 9.6e-3 1.3e-3
1878 2.9e-3 6.5e-3 8.0e-4
1880 5.5e-3 3.0e-4 9.5e-4
1882 4.1e-3 7.4e-3 1.4e-3
1884 5.0e-3 9.2e-3 1.5e-3
1886 6.3e-3 1.3e-2 9.8e-4
1888 4.4e-3 1.0e-2 1.3e-3
1890 3.0e-3 8.1e-3 1.8e-3
1892 3.3e-3 1.3e-2 9.0e-4
1894 4.7e-3 1.1e-2 5.8e-4
1896 3.0e-3 1.6e-2 6.8e-4
1898 2.3e-3 1.2e-2 1.1e-3
1900 5.1e-3 1.2e-2 1.2e-3
1902 4.3e-3 1.5e-2 8.0e-4
1904 7.2e-3 8.3e-3 2.3e-3
1906 5.0e-3 1.1e-2 1.4e-3
1908 5.3e-3 1.0e-2 1.6e-3
1910 6.6e-3 1.4e-2 9.4e-4
1912 3.5e-3 1.2e-2 1.0e-3
1914 2.7e-3 8.8e-3 1.5e-3
1916 4.6e-3 1.5e-2 4.2e-4
1918 3.7e-3 1.1e-2 1.1e-3
1920 5.7e-3 2.0e-2 1.4e-3
1922 6.7e-3 1.3e-2 8.4e-4
1924 4.0e-3 1.1e-2 1.1e-3
1926 4.8e-3 1.5e-2 1.6e-3
1928 2.6e-3 7.2e-3 7.7e-4
1930 3.6e-3 1.0e-2 1.2e-3
1932 3.6e-3 8.8e-3 1.2e-3
1934 2.4e-3 1.3e-2 6.8e-4
1936 4.7e-3 1.1e-2 1.8e-3
1938 6.0e-3 1.6e-2 1.2e-3
1940 5.9e-3 1.3e-2 1.4e-3
1942 4.1e-3 9.8e-3 1.9e-3
1944 3.9e-3 1.4e-2 1.1e-3
1946 5.3e-3 1.7e-2 7.4e-4
1948 4.8e-3 1.1e-2 8.5e-4
1950 3.4e-3 1.4e-2 1.4e-3
1952 6.5e-3 9.1e-3 6.3e-4
1954 4.7e-3 1.2e-2 1.1e-3
1956 4.4e-3 1.3e-2 1.2e-3
1958 5.7e-3 9.6e-3 1.7e-3
1960 3.2e-3 1.7e-2 1.5e-3
1962 2.5e-3 1.2e-2 9.2e-4
1964 4.2e-3 1.0e-2 1.9e-3
1966 5.5e-3 1.3e-2 1.3e-3
1968 5.1e-3 6.6e-3 2.1e-3
1970 3.6e-3 1.1e-2 1.4e-3
1972 4.0e-3 9.5e-3 1.3e-3
1974 5.2e-3 1.5e-2 7.5e-4
1976 2.8e-3 1.2e-2 9.3e-4
1978 4.4e-3 8.9e-3 1.5e-3
1980 3.9e-3 1.4e-2 1.0e-3
1982 2.9e-3 1.7e-2 1.4e-3
1984 4.5e-3 1.5e-2 2.5e-4
1986 6.4e-3 1.1e-2 1.2e-3
1988 5.6e-3 1.2e-2 1.1e-3
1990 4.1e-3 1.6e-2 1.7e-3
1992 6.0e-3 1.0e-2 1.3e-3
1994 4.4e-3 7.1e-3 8.1e-4
1996 4.8e-3 8.7e-3 1.6e-3
1998 3.1e-3 5.0e-3 2.0e-3
2000 3.7e-3 8.0e-3 1.8e-3
}\data
\begin{document}
\begin{tikzpicture}
\begin{axis}[
  name=ax,
  scale only axis,
  width=668pt, height=369pt,
  ymode=log,
  xmin=0, xmax=2000,
  ymin=1e-10, ymax=0.1,
  axis line style={black, line width=0.8pt},
  every tick/.style={black, line width=0.6pt},
  tickpos=both,
  tick align=inside,
  major tick length=4.5pt,
  minor tick length=2.5pt,
  xtick={0,200,400,600,800,1000,1200,1400,1600,1800,2000},
  xticklabels={0,200,400,600,800,1000,1200,1400,1600,1800,2000},
  ytick={1e-10,1e-9,1e-8,1e-7,1e-6,1e-5,1e-4,1e-3,1e-2,1e-1},
  yticklabels={1e-010,1e-009,1e-008,1e-007,1e-006,1e-005,0.0001,0.001,0.01,0.1},
  tick label style={font=\fontsize{7.5}{9}\selectfont, text=lbl},
  xticklabel style={yshift=-1pt},
  yticklabel style={xshift=-1pt},
  legend plot pos=right,
  legend cell align=right,
  legend style={draw=none, fill=none, at={(rel axis cs:1,1)}, anchor=north east,
    xshift=-6pt, yshift=-5pt, font=\fontsize{7.5}{9}\selectfont, text=lbl,
    inner sep=0pt, row sep=-1.2pt,
    nodes={inner sep=1.5pt}},
  legend image code/.code={\draw[#1, line width=1.2pt] (0pt,0pt) -- (18pt,0pt);},
  every axis plot/.append style={line width=0.9pt, line join=round},
]
\addplot[gpred, no markers] table[x=x, y=r] {\data};
\addlegendentry{"C:/users/Marcel/DAC/SDpbm4DFTvertrintoffsetspectrum.txt" using 1:4}
\addplot[gpgreen, no markers] table[x=x, y=g] {\data};
\addlegendentry{"C:/users/Marcel/DAC/SDpbm8agressiefDFTvertrintoffsetspectrum.txt" using 1:4}
\addplot[gpblue, no markers] table[x=x, y=b] {\data};
\addlegendentry{"C:/users/Marcel/DAC/SDDFT73en2chaosoffsetspectrum.txt" using 1:4}
\end{axis}
\pgfresetboundingbox
\path[use as bounding box] ([shift={(-38pt,-18pt)}]ax.south west) rectangle ([shift={(12pt,6pt)}]ax.north east);
\end{tikzpicture}
\end{document}
